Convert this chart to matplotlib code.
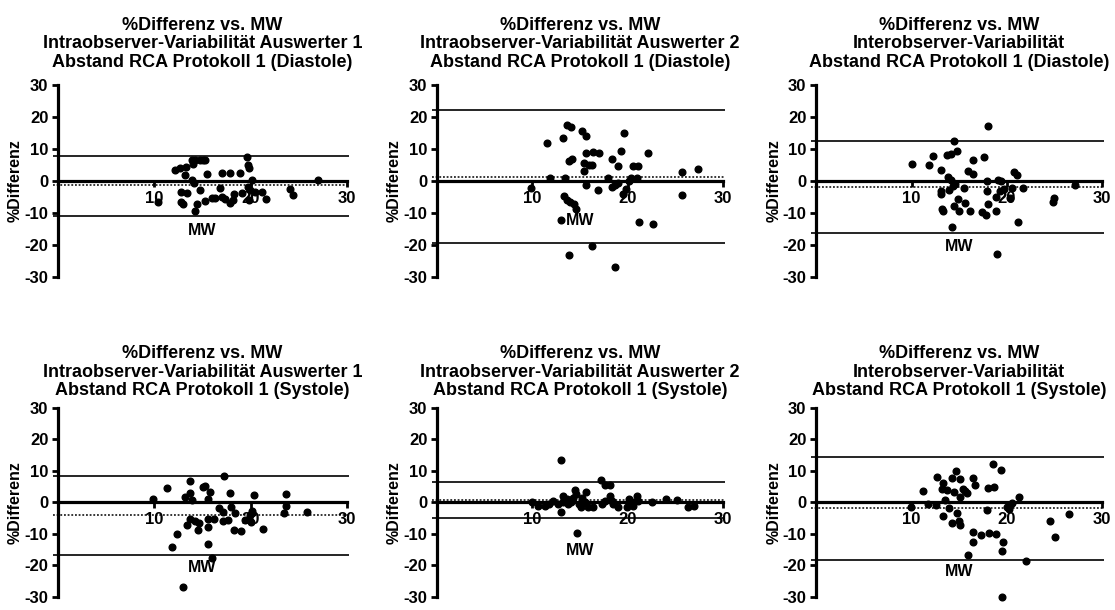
import matplotlib
matplotlib.use('Agg')
import matplotlib.pyplot as plt

plt.rcParams['font.family'] = ['Liberation Sans', 'DejaVu Sans']
plt.rcParams['font.weight'] = 'bold'
plt.rcParams['axes.unicode_minus'] = False

# Panel 1: Intraobserver Auswerter 1, Diastole
p1_mw = [12.15, 12.7, 13.3, 13.2, 13.9, 14.2, 14.8, 15.1, 15.3, 14.0, 13.9, 14.1, 14.8,
         12.8, 13.4, 12.8, 13.0, 10.4, 14.4, 14.2, 15.5, 15.3, 16.0, 16.3, 16.8, 17.0,
         17.4, 17.9, 17.9, 18.2, 18.3, 18.9, 19.1, 19.6, 19.7, 19.8, 19.7, 19.9, 19.8,
         20.2, 20.5, 21.2, 21.6, 24.1, 24.4, 27.0, 17.0]
p1_diff = [3.3, 4.1, 4.4, 1.8, 6.5, 6.6, 6.4, 6.6, 6.5, 5.4, 0.2, -0.8, -2.7,
           -3.4, -3.8, -6.6, -7.3, -6.6, -7.3, -9.5, 2.0, -6.3, -5.5, -5.5, -2.1, 2.5,
           -5.8, 2.5, -6.9, -6.0, -4.2, 2.6, -3.8, 7.3, 4.9, 3.9, -1.9, -2.9, -6.0,
           0.2, -3.4, -3.4, -5.8, -2.4, -4.3, 0.2, -5.0]

# Panel 2: Intraobserver Auswerter 2, Diastole
p2_mw = [9.9, 11.5, 11.8, 13.2, 13.4, 13.6, 14.0, 13.8, 14.2, 13.3, 13.6, 13.9, 14.4,
         14.6, 12.96, 15.2, 15.6, 15.4, 15.6, 15.4, 15.9, 16.3, 16.4, 16.97, 15.6, 16.9,
         16.2, 13.8, 17.9, 18.3, 18.3, 18.7, 18.95, 19.0, 19.3, 19.65, 19.5, 19.8, 20.1,
         20.3, 20.6, 21.1, 21.0, 21.15, 22.1, 22.6, 18.7, 25.7, 25.7, 27.4]
p2_diff = [-2.1, 11.8, 0.8, 13.3, 0.8, 17.4, 16.9, 6.3, 6.8, -4.7, -6.0, -6.5, -7.1,
           -8.9, -12.3, 15.6, 13.9, 5.7, 8.6, 3.1, 5.0, 5.0, 8.9, 8.6, -1.4, -2.9,
           -20.3, -23.2, 1.0, 6.9, -1.8, -1.25, -0.7, 4.6, 9.2, 15.1, -4.2, -2.6, 0.0,
           0.8, 4.7, 4.7, 0.8, -13.0, 8.75, -13.5, -26.8, 2.9, -4.5, 3.85]

# Panel 3: Interobserver, Diastole
p3_mw = [10.1, 11.8, 12.3, 13.1, 13.1, 13.1, 13.3, 13.2, 13.7, 14.1, 14.5, 14.8, 13.8,
         14.1, 13.9, 14.4, 14.6, 14.9, 14.5, 14.95, 14.25, 15.5, 15.6, 15.9, 16.4, 16.4,
         16.1, 17.6, 17.4, 17.8, 18.0, 17.9, 17.9, 18.0, 18.85, 18.85, 19.1, 19.4, 19.25,
         19.65, 20.3, 20.5, 20.7, 21.1, 21.7, 21.2, 19.0, 24.9, 24.8, 27.2]
p3_diff = [5.3, 5.0, 7.9, 3.4, -3.1, -4.2, -9.4, -8.9, 8.1, 8.3, 12.3, 9.4, 1.35,
           0.3, -2.8, -1.5, -1.0, -5.6, -8.0, -9.4, -14.3, -2.1, -7.0, 3.2, 2.2, 6.6,
           -9.4, 7.6, -9.6, -10.8, 17.0, 0.1, -3.1, -7.3, -9.4, -5.1, 0.3, 0.0, -3.3,
           -2.5, -5.4, -2.1, 2.9, 1.9, -2.3, -12.9, -22.9, -5.4, -6.5, -1.25]

# Panel 4: Intraobserver Auswerter 1, Systole
p4_mw = [9.9, 11.3, 11.8, 12.4, 13.0, 13.2, 13.4, 13.7, 13.7, 13.97, 13.7, 14.2, 14.6,
         14.5, 15.1, 15.3, 15.8, 15.6, 15.6, 15.55, 15.55, 16.0, 16.2, 16.7, 17.2, 17.1,
         17.1, 17.7, 17.9, 18.0, 18.4, 18.3, 18.99, 19.4, 19.8, 19.9, 20.2, 20.2, 20.4,
         20.1, 21.3, 23.7, 23.7, 23.5, 25.9]
p4_diff = [1.1, 4.5, -14.0, -10.1, -26.9, 1.6, -7.0, 6.7, 3.0, 0.75, -5.4, -5.9, -6.5,
           -8.8, 4.8, 5.2, 3.2, 1.1, -5.1, -7.8, -13.2, -17.7, -5.1, -1.9, 8.3, -3.0,
           -5.9, -5.7, 2.9, -1.6, -3.2, -8.8, -9.1, -5.7, -5.1, -4.1, -3.2, -2.7, 2.4,
           -6.2, -8.3, 2.7, -1.1, -3.2, -2.9]

# Panel 5: Intraobserver Auswerter 2, Systole
p5_mw = [10.0, 10.6, 11.3, 11.75, 12.2, 12.7, 13.0, 13.0, 13.2, 13.2, 13.6, 13.7, 14.1,
         14.3, 14.5, 14.6, 14.7, 14.9, 15.1, 15.2, 15.6, 15.5, 15.8, 16.4, 17.2, 17.6,
         18.1, 17.3, 17.6, 18.1, 18.3, 18.5, 19.0, 19.9, 20.1, 20.4, 20.6, 21.0, 21.1,
         22.5, 24.0, 25.2, 26.3, 27.0]
p5_diff = [0.1, -1.0, -1.0, -0.4, 0.6, -0.4, 13.4, -3.1, 2.2, 0.1, 1.2, -0.4, 0.1,
           1.4, 4.0, 2.8, -9.7, -0.4, -1.5, 1.4, 3.3, 0.1, -1.5, -1.5, 7.0, 5.6,
           5.6, -0.4, 0.6, 2.2, 0.6, -0.4, -1.3, -1.3, 1.2, 0.1, -1.0, 2.0, 0.6,
           0.3, 1.2, 0.85, -1.3, -1.0]

# Panel 6: Interobserver, Systole
p6_mw = [9.9, 11.2, 11.75, 12.55, 12.7, 13.3, 13.2, 13.7, 13.3, 13.5, 13.95, 14.2, 14.5,
         14.2, 14.7, 15.1, 14.8, 14.95, 15.1, 15.1, 15.4, 15.6, 15.8, 16.5, 16.7, 16.5,
         16.4, 15.9, 17.3, 17.9, 18.0, 18.1, 18.5, 18.7, 18.9, 19.4, 19.6, 19.5, 19.5,
         19.97, 20.2, 20.3, 20.5, 21.3, 22.0, 24.5, 25.0, 26.5]
p6_diff = [-1.6, 3.5, -0.5, -0.8, 8.1, 6.1, 4.4, 4.0, -4.4, 0.7, -1.9, 7.7, 3.2,
           -6.5, 10.0, 7.6, -3.2, -5.8, -7.2, 1.6, 4.4, 3.7, 2.9, 7.9, 5.5, -9.5,
           -12.4, -16.6, -10.3, -2.4, 4.5, -9.7, 12.1, 4.9, -10.0, 10.2, -12.6, -15.3, -30.0,
           -1.6, -2.1, -0.8, -0.2, 1.8, -18.6, -5.9, -10.9, -3.7]

mw_values = [p1_mw, p2_mw, p3_mw, p4_mw, p5_mw, p6_mw]
diff_values = [p1_diff, p2_diff, p3_diff, p4_diff, p5_diff, p6_diff]

bias = [-1.35, 1.35, -2.0, -4.1, 0.75, -1.8]
upper_loa = [7.7, 22.1, 12.5, 8.4, 6.6, 14.3]
lower_loa = [-11.0, -19.3, -16.4, -16.7, -5.0, -18.2]
mw_label_y = [-15.4, -12.3, -20.5, -20.7, -15.3, -21.9]

titles = [
    '%Differenz vs. MW\nIntraobserver-Variabilität Auswerter 1\nAbstand RCA Protokoll 1 (Diastole)',
    '%Differenz vs. MW\nIntraobserver-Variabilität Auswerter 2\nAbstand RCA Protokoll 1 (Diastole)',
    '%Differenz vs. MW\nInterobserver-Variabilität\nAbstand RCA Protokoll 1 (Diastole)',
    '%Differenz vs. MW\nIntraobserver-Variabilität Auswerter 1\nAbstand RCA Protokoll 1 (Systole)',
    '%Differenz vs. MW\nIntraobserver-Variabilität Auswerter 2\nAbstand RCA Protokoll 1 (Systole)',
    '%Differenz vs. MW\nInterobserver-Variabilität\nAbstand RCA Protokoll 1 (Systole)',
]

fig = plt.figure(figsize=(11.15, 6.1), dpi=100)

lefts = [0.052, 0.392, 0.732]
widths = [0.259, 0.2565, 0.2565]
bottoms = [0.546, 0.0213]
heights = [0.315, 0.310]
title_pads = [13, 9]

for i in range(6):
    row, col = divmod(i, 3)
    ax = fig.add_axes([lefts[col], bottoms[row], widths[col], heights[row]])

    ax.set_xlim(0, 30)
    ax.set_ylim(-30, 30)

    ax.spines['top'].set_visible(False)
    ax.spines['right'].set_visible(False)
    ax.spines['bottom'].set_position(('data', 0))
    ax.spines['left'].set_linewidth(2.3)
    ax.spines['bottom'].set_linewidth(2.3)

    ax.set_xticks([10, 20, 30])
    ax.set_yticks([-30, -20, -10, 0, 10, 20, 30])
    ax.tick_params(axis='both', direction='out', length=4, width=2, labelsize=12, pad=3)
    for lab in ax.get_xticklabels() + ax.get_yticklabels():
        lab.set_fontweight('bold')

    # limits of agreement and bias
    ax.hlines([upper_loa[i], lower_loa[i]], -0.5, 30.2, colors='black', linewidth=1.2,
              clip_on=False, zorder=2)
    ax.hlines(bias[i], -0.5, 30.2, colors='black', linewidth=1.1, linestyles=(0, (1.2, 1.2)),
              clip_on=False, zorder=2)

    ax.plot(mw_values[i], diff_values[i], 'o', color='black', markersize=4.8,
            clip_on=False, zorder=3)

    ax.text(15, mw_label_y[i], 'MW', ha='center', va='center', fontsize=11.5,
            fontweight='bold')
    ax.set_ylabel('%Differenz', fontsize=11.5, fontweight='bold', labelpad=1)
    ax.set_title(titles[i], fontsize=13, fontweight='bold', linespacing=1.12,
                 pad=title_pads[row])

plt.savefig('out.png', dpi=100)
